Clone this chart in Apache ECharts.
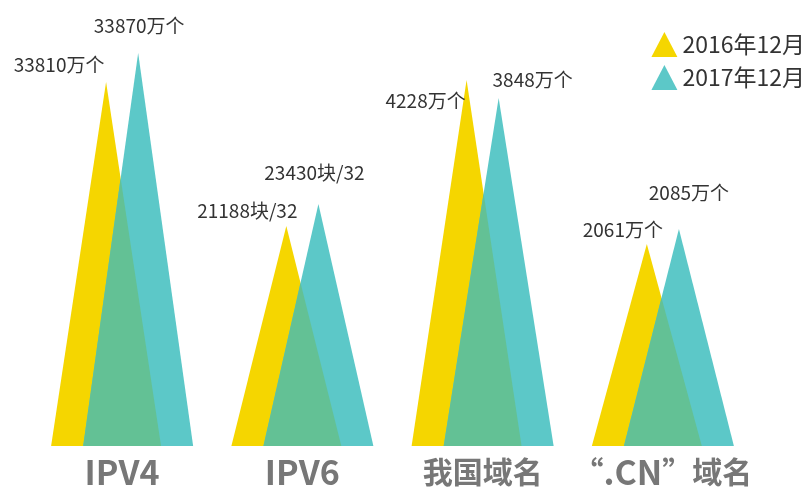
<!DOCTYPE html>
<html>
<head>
<meta charset="utf-8">
<script src="https://cdn.jsdelivr.net/npm/echarts@6/dist/echarts.min.js"></script>
<style>
  html, body { margin: 0; padding: 0; background: #fff; }
  #chart { width: 812px; height: 489px; }
</style>
</head>
<body>
<div id="chart"></div>
<script>
// 分类与数据（高度为图中三角形的示意高度，标签为真实数值）
const categories = ['IPV4', 'IPV6', '我国域名', '“.CN”域名'];
const seriesNames = ['2016年12月', '2017年12月'];
const heights2016 = [364, 220, 366, 202];
const heights2017 = [393, 242, 348, 217];
const labels2016 = ['33810万个', '21188块/32', '4228万个', '2061万个'];
const labels2017 = ['33870万个', '23430块/32', '3848万个', '2085万个'];

// 样式配置
const YELLOW = '#f5d600';
const TEAL = '#5cc8c8';
const GREEN = '#63c195';
const HALF = 0.305;   // 三角形半宽 / 类目宽度
const OFF = 0.089;    // 两个三角形中心偏移 / 类目宽度
const labelOffset2016 = [[-47, -17], [-39, -15], [-41, 21], [-24, -14]];
const labelOffset2017 = [[1, -27], [-4, -31], [34, -18], [10, -36]];
const FONT = '"Noto Sans CJK SC", "Noto Sans", sans-serif';

const chart = echarts.init(document.getElementById('chart'));

function valueText(text, x, y) {
  return {
    type: 'text',
    style: {
      text: text, x: x, y: y,
      align: 'center', verticalAlign: 'middle',
      fill: '#333', font: '19px ' + FONT
    }
  };
}

function render2016(params, api) {
  const i = api.value(0);
  const band = api.size([1, 0])[0];
  const [cx, by] = api.coord([i, 0]);
  const ay = api.coord([i, api.value(1)])[1];
  const x = cx - band * OFF;
  const hw = band * HALF;
  const off = labelOffset2016[i];
  return {
    type: 'group',
    children: [
      { type: 'polygon', shape: { points: [[x - hw, by], [x + hw, by], [x, ay]] }, style: { fill: YELLOW } },
      valueText(labels2016[i], x + off[0], ay + off[1])
    ]
  };
}

function render2017(params, api) {
  const i = api.value(0);
  const band = api.size([1, 0])[0];
  const [cx, by] = api.coord([i, 0]);
  const ayT = api.coord([i, api.value(1)])[1];
  const ayY = api.coord([i, api.value(2)])[1];
  const hw = band * HALF;
  const xy = cx - band * OFF;
  const xt = cx + band * OFF;
  // 黄色右边与青色左边的交点
  const hY = by - ayY, hT = by - ayT, d = xt - xy;
  const s = ((2 * hw - d) / hw) / (1 + hY / hT);
  const px = xy + hw - s * hw, py = by - s * hY;
  const off = labelOffset2017[i];
  return {
    type: 'group',
    children: [
      { type: 'polygon', shape: { points: [[xt - hw, by], [xt + hw, by], [xt, ayT]] }, style: { fill: TEAL } },
      { type: 'polygon', shape: { points: [[xt - hw, by], [xy + hw, by], [px, py]] }, style: { fill: GREEN } },
      valueText(labels2017[i], xt + off[0], ayT + off[1])
    ]
  };
}

const option = {
  animation: false,
  backgroundColor: '#fff',
  grid: { left: 32, right: 59, top: 0, bottom: 43 },
  legend: {
    data: seriesNames,
    orient: 'vertical',
    right: 2,
    top: 27,
    icon: 'triangle',
    itemWidth: 26,
    itemHeight: 25,
    itemGap: 8,
    textStyle: { fontSize: 23, color: '#333', fontFamily: FONT }
  },
  xAxis: {
    type: 'category',
    data: categories,
    axisLine: { show: false },
    axisTick: { show: false },
    axisLabel: {
      interval: 0,
      margin: 6,
      color: '#777',
      fontWeight: 'bold',
      fontFamily: FONT,
      formatter: function (v) {
        if (v === '“.CN”域名') return '{b|“}{a|.CN}{b|”域名}';
        if (/^[A-Z0-9]+$/.test(v)) return '{a|' + v + '}';
        return '{b|' + v + '}';
      },
      rich: {
        a: { fontSize: 34, fontWeight: 'bold', color: '#777', fontFamily: FONT, lineHeight: 40 },
        b: { fontSize: 30, fontWeight: 'bold', color: '#777', fontFamily: FONT, lineHeight: 40 }
      }
    }
  },
  yAxis: {
    type: 'value',
    min: 0,
    max: 446,
    show: false
  },
  series: [
    {
      name: seriesNames[0],
      type: 'custom',
      itemStyle: { color: YELLOW },
      renderItem: render2016,
      data: categories.map((c, i) => [i, heights2016[i]])
    },
    {
      name: seriesNames[1],
      type: 'custom',
      itemStyle: { color: TEAL },
      renderItem: render2017,
      data: categories.map((c, i) => [i, heights2017[i], heights2016[i]])
    }
  ]
};

chart.setOption(option);
</script>
</body>
</html>
